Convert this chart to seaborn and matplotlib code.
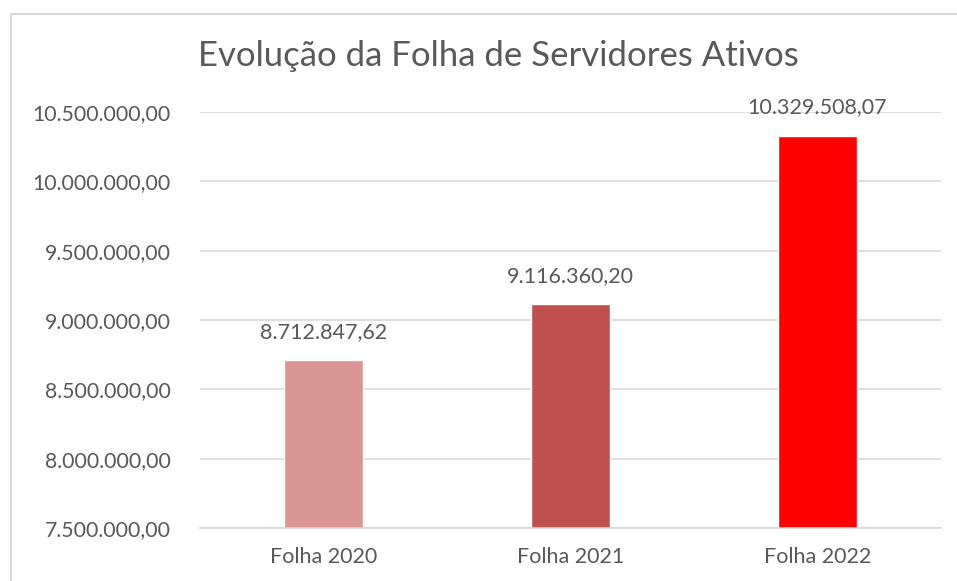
import matplotlib
matplotlib.use("Agg")
import matplotlib.pyplot as plt
import seaborn as sns
import pandas as pd
from matplotlib.lines import Line2D

categories = ["Folha 2020", "Folha 2021", "Folha 2022"]
values = [8712847.62, 9116360.20, 10329508.07]
labels = ["8.712.847,62", "9.116.360,20", "10.329.508,07"]
colors = ["#D99694", "#C0504D", "#FF0000"]
yticks = [7500000, 8000000, 8500000, 9000000, 9500000, 10000000, 10500000]
ytick_labels = ["7.500.000,00", "8.000.000,00", "8.500.000,00", "9.000.000,00",
                "9.500.000,00", "10.000.000,00", "10.500.000,00"]
title = "Evolução da Folha de Servidores Ativos"

sns.set_theme(style="white")
plt.rcParams['font.family'] = ['Lato', 'DejaVu Sans']
text_color = "#595959"

df = pd.DataFrame({"cat": categories, "val": values})

fig = plt.figure(figsize=(9.57, 5.81), dpi=100)
ax = fig.add_axes([200/957, 1-528/581, 741/957, (528-112)/581])

sns.barplot(data=df, x="cat", y="val", hue="cat", palette=colors, legend=False,
            width=0.316, ax=ax, saturation=1)

ax.set_ylim(7500000, 10500000)
ax.set_yticks(yticks)
ax.set_yticklabels(ytick_labels, fontsize=15.3, color=text_color)
ax.tick_params(axis='x', labelsize=15.5, colors=text_color, length=0, pad=14)
ax.tick_params(axis='y', length=0, pad=21)
ax.set_xlabel("")
ax.set_ylabel("")
ax.grid(axis='y', color="#D9D9D9", linewidth=1.2)
ax.set_axisbelow(True)
for s in ["left", "right", "top"]:
    ax.spines[s].set_visible(False)
ax.spines["bottom"].set_color("#D9D9D9")
ax.spines["bottom"].set_linewidth(1.2)

for i, (v, lab) in enumerate(zip(values, labels)):
    ax.annotate(lab, xy=(i, v), xytext=(0, 13), textcoords="offset points",
                ha="center", va="bottom", fontsize=15.5, color=text_color,
                annotation_clip=False)

fig.text(498/957, 1-56/581, title, ha="center", va="center", fontsize=25, color=text_color)

# outer chart frame (left and top edges visible)
fig.add_artist(Line2D([10.5/957, 10.5/957], [0, 1-13.5/581], transform=fig.transFigure,
                      color="#D9D9D9", linewidth=1.5))
fig.add_artist(Line2D([10.5/957, 1], [1-13.5/581, 1-13.5/581], transform=fig.transFigure,
                      color="#D9D9D9", linewidth=1.5))

fig.savefig("out.png", dpi=100)
